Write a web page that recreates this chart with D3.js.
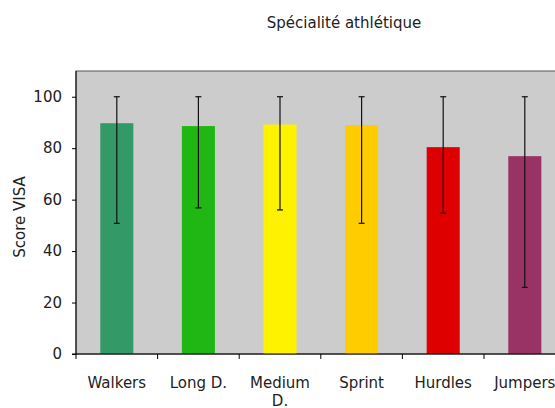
<!DOCTYPE html>
<html><head><meta charset="utf-8">
<script src="https://cdn.jsdelivr.net/npm/d3@7"></script>
<style>body{margin:0;background:#fff}svg{display:block}text{font-family:"DejaVu Sans",Verdana,sans-serif;fill:#222}</style>
</head><body><svg id="c" width="555" height="408"></svg>
<script>
const categories = ["Walkers", "Long D.", "Medium D.", "Sprint", "Hurdles", "Jumpers"];
const means = [89.7, 88.6, 89.2, 89.0, 80.4, 76.9];
const errLow = [50.8, 56.8, 56.0, 50.8, 54.7, 25.9];
const errHigh = [100, 100, 100, 100, 100, 100];
const colors = ["#339966", "#20b715", "#fff200", "#ffcc00", "#de0000", "#993366"];
const yTicks = [0, 20, 40, 60, 80, 100];
const title = "Spécialité athlétique";
const yTitle = "Score VISA";

const svg = d3.select("#c");
const L = 76, T = 71, B = 354, bandW = 81.6;
const R = L + bandW * categories.length;
const x = d3.scaleBand().domain(categories).range([L, R]).paddingInner(0).paddingOuter(0);
const y = d3.scaleLinear().domain([0, 110]).range([B, T]);

svg.append("rect").attr("x", L).attr("y", T).attr("width", R - L).attr("height", B - T)
  .attr("fill", "#cccccc").attr("stroke", "#555").attr("stroke-width", 1);

const bw = x.bandwidth() * 0.405;
categories.forEach((c, i) => {
  const cx = x(c) + x.bandwidth() / 2;
  svg.append("rect").attr("x", cx - bw / 2).attr("y", y(means[i])).attr("width", bw)
    .attr("height", y(0) - y(means[i])).attr("fill", colors[i]);
  const g = svg.append("g").attr("stroke", "#111").attr("stroke-width", 1.2);
  g.append("line").attr("x1", cx).attr("x2", cx).attr("y1", y(errHigh[i])).attr("y2", y(errLow[i]));
  g.append("line").attr("x1", cx - 3).attr("x2", cx + 3).attr("y1", y(errHigh[i])).attr("y2", y(errHigh[i]));
  g.append("line").attr("x1", cx - 3).attr("x2", cx + 3).attr("y1", y(errLow[i])).attr("y2", y(errLow[i]));
});

const ya = d3.axisLeft(y).tickValues(yTicks).tickSize(4).tickPadding(10);
const yg = svg.append("g").attr("transform", `translate(${L},0)`).call(ya);
yg.select(".domain").attr("stroke", "#000").attr("d", `M-4,${B}H0V${T}`);
yg.selectAll(".tick line").attr("stroke", "#000");
yg.selectAll("text").attr("font-size", 15).attr("font-family", '"DejaVu Sans",sans-serif').attr("fill", "#222");

const xa = d3.axisBottom(x).tickSize(4).tickFormat(() => "");
const xg = svg.append("g").attr("transform", `translate(0,${B})`).call(xa);
xg.select(".domain").attr("stroke", "#000").attr("d", `M${L},0H${R}`);
xg.selectAll(".tick").remove();
const bounds = [L].concat(categories.map(c => x(c) + x.bandwidth()));
xg.selectAll("line.bt").data(bounds).enter().append("line").attr("class", "bt")
  .attr("x1", d => d).attr("x2", d => d).attr("y1", 0).attr("y2", 5).attr("stroke", "#000");

categories.forEach(c => {
  const cx = x(c) + x.bandwidth() / 2;
  const parts = c === "Medium D." ? ["Medium", "D."] : [c];
  const t = svg.append("text").attr("x", cx).attr("y", 388).attr("text-anchor", "middle").attr("font-size", 15);
  parts.forEach((p, k) => t.append("tspan").attr("x", cx).attr("dy", k ? 18 : 0).text(p));
});

svg.append("text").attr("x", 344).attr("y", 28).attr("text-anchor", "middle").attr("font-size", 15).text(title);
svg.append("text").attr("transform", "translate(25,217) rotate(-90)").attr("text-anchor", "middle").attr("font-size", 15).text(yTitle);
</script></body></html>
